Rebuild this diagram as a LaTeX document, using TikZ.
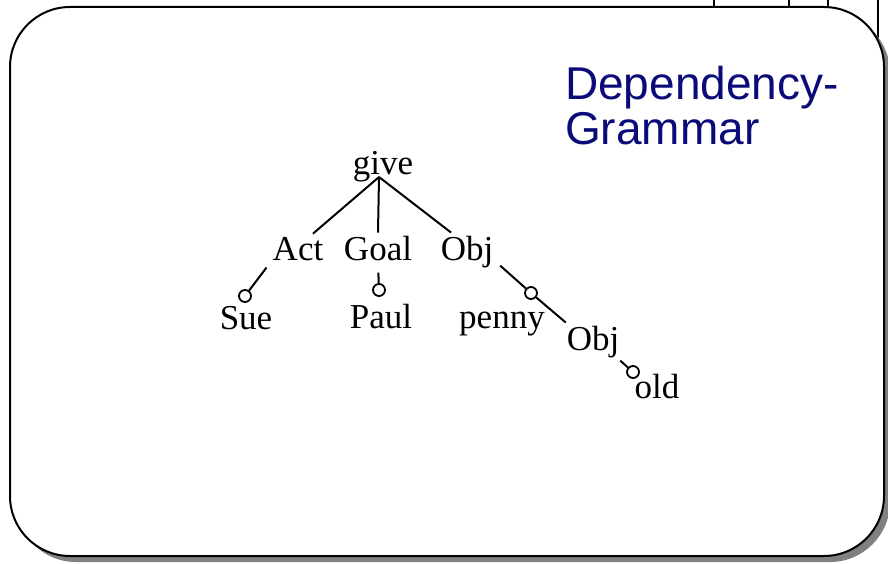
\documentclass[tikz,border=0pt]{standalone}
\usepackage{fontspec}
\setmainfont{Liberation Serif}
\newfontfamily\titlefont{Liberation Sans}
\usetikzlibrary{positioning}
\definecolor{slidenavy}{HTML}{0A0A78}
\definecolor{shadowgray}{HTML}{808080}
\tikzset{
  % words and links
  word/.style={anchor=base,inner sep=3pt,font=\fontsize{35}{40}\selectfont},
  hook/.style={circle,draw,fill=white,line width=1.8pt,minimum size=12pt,inner sep=0pt},
  link/.style={draw=black,line width=2pt},
  sublink/.style={link,shorten <=5pt},
  % slide
  slide/.style={draw=black,line width=2pt,fill=white,rounded corners=60pt},
  heading/.style={anchor=base west,inner sep=0pt,text=slidenavy,
                  font=\titlefont\fontsize{46}{46}\selectfont},
}
\begin{document}
\begin{tikzpicture}[x=1pt,y=-1pt]
\useasboundingbox (0,0) rectangle (888,564);
  % behind the slide
  \foreach \xx in {714,789,828} \draw[line width=1.2pt] (\xx,0) -- (\xx,12);
  \draw[line width=1.2pt] (878,0) -- (878,60);
  \fill[shadowgray,rounded corners=60pt] (16,13) rectangle (890,562);
  \draw[slide] (10,7) rectangle (884,556);
  % title
  \node[heading] (dep) at (565,100) {Dependency-};
  \node[heading] (gram) at ([yshift=-45pt]dep.base west) {Grammar};
  % words
  \node[word] (give) at (383,175) {give};
  \coordinate (root) at ([xshift=-4pt,yshift=-2pt]give.base);
  \node[word] (act) at (298,260) {Act};
  \node[word] (goal) at (378,260) {Goal};
  \node[word] (obj) at (467,260) {Obj};
  \node[word] (sue) at (246,329) {Sue};
  \node[word] (paul) at (381,328) {Paul};
  \node[word] (penny) at (502,328) {penny};
  \node[word] (obj2) at (593,350) {Obj};
  \node[word] (old) at (657,398) {old};
  \node[hook] (sueh) at (245,296) {};
  \node[hook] (paulh) at (379,290) {};
  \node[hook] (pennyh) at (531,293) {};
  \node[hook] (oldh) at (633,372) {};
  % links
  \draw[link] (root) -- (act.45);
  \draw[link] (root) -- (goal.north);
  \draw[link] (root) -- (obj.130);
  \draw[sublink] (act.south west) -- (sueh);
  \draw[sublink,shorten <=9pt] (goal.south) -- (paulh);
  \draw[sublink] (obj.-20) -- (pennyh);
  \draw[link] (pennyh) -- (obj2.145);
  \draw[link] (obj2.-35) -- (oldh);
\end{tikzpicture}
\end{document}
